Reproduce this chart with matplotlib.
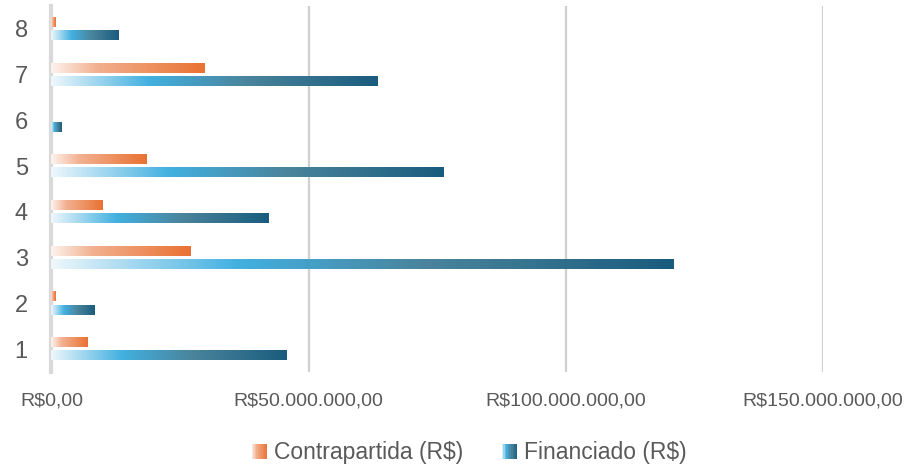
import numpy as np
import matplotlib
matplotlib.use("Agg")
import matplotlib.pyplot as plt
from matplotlib.colors import LinearSegmentedColormap
from matplotlib.patches import Rectangle
from matplotlib.legend_handler import HandlerBase

plt.rcParams["font.family"] = ["Liberation Sans", "DejaVu Sans"]

categories = ["1", "2", "3", "4", "5", "6", "7", "8"]
contrapartida = [7.1e6, 0.8e6, 27.1e6, 10.0e6, 18.5e6, 0.0, 29.8e6, 0.8e6]
financiado = [45.7e6, 8.4e6, 121.1e6, 42.2e6, 76.4e6, 2.0e6, 63.4e6, 13.1e6]
series_names = ["Contrapartida (R$)", "Financiado (R$)"]
xticks = [0, 50e6, 100e6, 150e6]
xtick_labels = ["R$0,00", "R$50.000.000,00", "R$100.000.000,00", "R$150.000.000,00"]

orange = LinearSegmentedColormap.from_list(
    "orange", [(0, "#fdf3ee"), (0.3, "#f2b08f"), (1, "#e97132")])
blue = LinearSegmentedColormap.from_list(
    "blue", [(0, "#eef7fc"), (0.3, "#42b0e0"), (0.6, "#4a849c"), (1, "#1a5c7e")])
grad = np.linspace(0, 1, 256).reshape(1, -1)

fig = plt.figure(figsize=(9.11, 4.65), dpi=100)
ax = fig.add_axes([0.0565, 0.2, 0.8469, 0.787])

y = np.arange(len(categories)) + 1
h = 0.2
off = 0.145
bars_o = ax.barh(y + off, contrapartida, height=h, facecolor="none", edgecolor="none")
bars_b = ax.barh(y - off, financiado, height=h, facecolor="none", edgecolor="none")

for bars, cmap in [(bars_o, orange), (bars_b, blue)]:
    for p in bars:
        w = p.get_width()
        if w <= 0:
            continue
        x0, y0 = p.get_x(), p.get_y()
        ax.imshow(grad, cmap=cmap, aspect="auto", interpolation="bilinear",
                  extent=(x0, x0 + w, y0, y0 + p.get_height()), zorder=3)

ax.set_xlim(0, 150e6)
ax.set_ylim(0.5, 8.5)
ax.set_yticks(y)
ax.set_yticklabels(categories, fontsize=17, color="#595959")
ax.set_xticks(xticks)
ax.set_xticklabels(xtick_labels, fontsize=14, color="#595959")
ax.tick_params(axis="both", length=0)
ax.tick_params(axis="x", pad=15)
ax.tick_params(axis="y", pad=17)
ax.grid(axis="x", color="#d0d0d0", lw=1.6)
ax.set_axisbelow(True)
for s in ["top", "right", "bottom"]:
    ax.spines[s].set_visible(False)
ax.spines["left"].set_color("#d9d9d9")
ax.spines["left"].set_linewidth(3)
ax.spines["left"].set_zorder(2.5)


class GradHandler(HandlerBase):
    def __init__(self, cmap):
        super().__init__()
        self.cmap = cmap

    def create_artists(self, legend, orig_handle, xdescent, ydescent,
                       width, height, fontsize, trans):
        n = 10
        side = height * 0.95
        x0 = width - side
        arts = []
        for i in range(n):
            arts.append(Rectangle((x0 + side * i / n - xdescent, -ydescent),
                                  side / n + 0.1, side,
                                  facecolor=self.cmap((i + 0.5) / n),
                                  edgecolor="none", transform=trans))
        return arts


h_o = Rectangle((0, 0), 1, 1)
h_b = Rectangle((0, 0), 1, 1)
leg = fig.legend([h_o, h_b], series_names, loc="center", bbox_to_anchor=(0.514, 0.027),
                 ncol=2, frameon=False, fontsize=16.5, handlelength=0.75,
                 handletextpad=0.3, columnspacing=1.6,
                 handler_map={h_o: GradHandler(orange), h_b: GradHandler(blue)})
for t in leg.get_texts():
    t.set_color("#595959")

fig.savefig("out.png", dpi=100)
